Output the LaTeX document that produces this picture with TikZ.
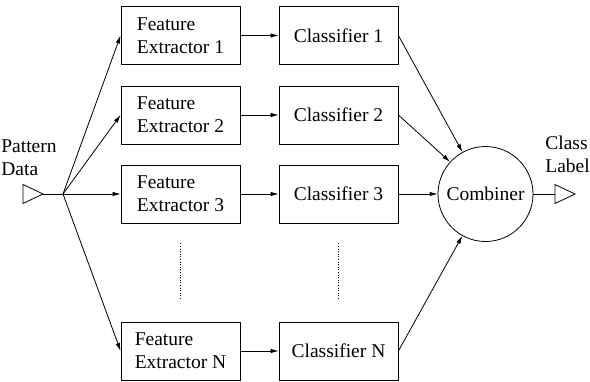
\documentclass[tikz,border=0pt]{standalone}
\usepackage{fontspec}
\setmainfont{Liberation Serif}
\usetikzlibrary{arrows.meta}
\tikzset{
  block/.style={draw, minimum width=119pt, minimum height=58pt, inner sep=0pt,
    align=left, font=\fontsize{19.5}{23}\selectfont},
  txt/.style={inner sep=0pt, align=left, font=\fontsize{19.5}{23}\selectfont},
  arr/.style={-{Latex[length=8pt,width=4.5pt]}},
}
\begin{document}
\begin{tikzpicture}[x=1pt, y=-1pt, line width=0.8pt]
	%%%%% START %%%%%
	\useasboundingbox (0,0) rectangle (590,381);

	% extractors and classifiers
	\node[block] (fe1) at (180.5, 35.5) {Feature\\Extractor 1};
	\node[block] (fe2) at (180.5, 115) {Feature\\Extractor 2};
	\node[block] (fe3) at (180.5, 194) {Feature\\Extractor 3};
	\node[block] (feN) at (180.5, 351) {Feature\\Extractor N};

	\node[block] (cl1) at (338.5, 35.5) {Classifier 1};
	\node[block] (cl2) at (338.5, 115) {Classifier 2};
	\node[block] (cl3) at (338.5, 194) {Classifier 3};
	\node[block] (clN) at (338.5, 351) {Classifier N};

	\node[draw, circle, minimum size=95pt, inner sep=0pt, font=\fontsize{19.5}{23}\selectfont] (comb) at (485.5, 194) {Combiner};

	% input
	\node[txt, anchor=base west] (pat) at (1, 175) {Pattern\\Data};
	\draw (23, 184.5) -- (43, 194) coordinate (in) -- (23, 203.5) -- cycle;
	\coordinate (fan) at (63, 194);
	\draw (in) -- (fan);

	\draw[arr] (fan) -- (fe1.west);
	\draw[arr] (fan) -- (fe2.west);
	\draw[arr] (fan) -- (fe3.west);
	\draw[arr] (fan) -- (feN.west);

	\draw[arr] (fe1) -- (cl1);
	\draw[arr] (fe2) -- (cl2);
	\draw[arr] (fe3) -- (cl3);
	\draw[arr] (feN) -- (clN);

	\draw[arr] (cl1.east) -- (comb);
	\draw[arr] (cl2.east) -- (comb);
	\draw[arr] (cl3.east) -- (comb);
	\draw[arr] (clN.east) -- (comb);

	% dots
	\draw[dotted, line width=0.6pt] ([yshift=-20pt]fe3.south) -- ([yshift=22pt]feN.north);
	\draw[dotted, line width=0.6pt] ([yshift=-20pt]cl3.south) -- ([yshift=22pt]clN.north);

	% output
	\coordinate (out) at (555, 194);
	\draw (comb.east) -- (out);
	\draw (out) -- ++(0,-9.5) -- ++(20,9.5) -- ++(-20,9.5) -- cycle;
	\node[txt, anchor=base west] (lab) at (545, 172) {Class\\Label};

	%%%%% END %%%%%
\end{tikzpicture}
\end{document}
